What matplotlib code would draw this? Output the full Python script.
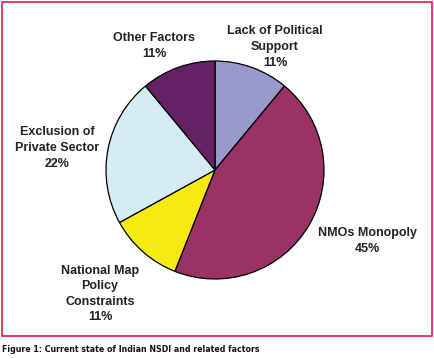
import matplotlib
matplotlib.use("Agg")
import matplotlib.pyplot as plt
from matplotlib.patches import Rectangle

W, H = 434, 359

factors = ["Lack of Political\nSupport", "NMOs Monopoly", "National Map\nPolicy\nConstraints",
           "Exclusion of\nPrivate Sector", "Other Factors"]
shares = [11, 45, 11, 22, 11]
colours = ["#9999cc", "#993366", "#f5ea14", "#d4ecf3", "#632263"]
# label centres in pixels (x, y from top)
label_pos = [(275, 47), (367, 241), (100, 294), (57, 148), (154, 46)]

fig = plt.figure(figsize=(W / 100, H / 100), dpi=100)

# red frame round the chart
fig.patches.append(Rectangle((1.5 / W, 1 - 335.5 / H), 430.5 / W, 334 / H,
                             transform=fig.transFigure, fill=False,
                             edgecolor="#e8174a", linewidth=1.2))

cx, cy, r = 215, 170, 109
ax = fig.add_axes([(cx - r) / W, 1 - (cy + r) / H, 2 * r / W, 2 * r / H])
ax.pie(shares, colors=colours, startangle=90, counterclock=False,
       wedgeprops=dict(edgecolor="black", linewidth=0.9))
ax.set_xlim(-1.0, 1.0)
ax.set_ylim(-1.0, 1.0)
ax.set_aspect("auto")
ax.axis("off")

for name, pct, (x, y) in zip(factors, shares, label_pos):
    fig.text(x / W, 1 - y / H, "%s\n%d%%" % (name, pct), ha="center", va="center",
             fontsize=9, fontweight="bold", family=["Liberation Sans", "DejaVu Sans"],
             color="#222222", linespacing=1.4)

fig.text(2 / W, 1 - 349 / H, "Figure 1: Current state of Indian NSDI and related factors",
         ha="left", va="center", fontsize=6.3, fontweight="bold", fontstretch="condensed",
         family="DejaVu Sans", color="#111111")

fig.savefig("out.png", dpi=100)
